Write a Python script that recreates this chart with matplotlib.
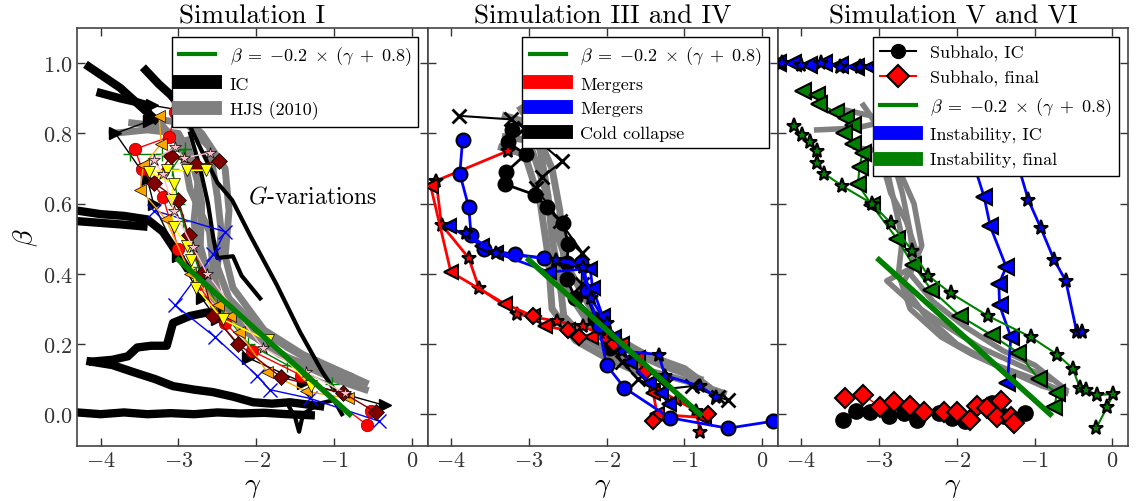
import numpy as np
import matplotlib
matplotlib.use("Agg")
import matplotlib.pyplot as plt
from matplotlib.lines import Line2D

plt.rcParams['font.family'] = 'serif'
plt.rcParams['font.serif'] = ['cmr10', 'DejaVu Serif']
plt.rcParams['mathtext.fontset'] = 'cm'
plt.rcParams['axes.formatter.use_mathtext'] = True
plt.rcParams['axes.unicode_minus'] = True

# fit line beta = -0.2 (gamma + 0.8), end points
fit_gamma = [-3.0, -0.8]
fit_beta = [0.44, 0.0]

# ---------------- panel 1 : Simulation I ----------------
p1_hjs = [
    [(-3.85, 0.80), (-3.4, 0.81), (-3.0, 0.80), (-2.8, 0.72), (-2.7, 0.60), (-2.72, 0.48), (-2.6, 0.38),
     (-2.3, 0.28), (-1.9, 0.20), (-1.5, 0.15), (-1.0, 0.10), (-0.6, 0.07)],
    [(-3.3, 0.84), (-2.9, 0.83), (-2.6, 0.76), (-2.5, 0.62), (-2.45, 0.52), (-2.5, 0.42), (-2.35, 0.33),
     (-2.0, 0.25), (-1.6, 0.19), (-1.2, 0.14), (-0.8, 0.11)],
    [(-3.0, 0.86), (-2.7, 0.80), (-2.4, 0.70), (-2.35, 0.58), (-2.4, 0.45), (-2.3, 0.36), (-1.9, 0.24),
     (-1.4, 0.17), (-0.9, 0.12), (-0.6, 0.09)],
    [(-2.9, 0.78), (-2.75, 0.66), (-2.8, 0.55), (-2.75, 0.45), (-2.55, 0.33), (-2.2, 0.25), (-1.7, 0.17),
     (-1.1, 0.12), (-0.7, 0.08)],
    [(-3.6, 0.83), (-3.2, 0.82), (-2.95, 0.76), (-2.85, 0.64), (-2.6, 0.52), (-2.55, 0.40), (-2.45, 0.31),
     (-2.1, 0.23), (-1.6, 0.16), (-1.0, 0.11)],
]
p1_ic_thick = [
    [(-4.15, 0.99), (-3.95, 0.96), (-3.75, 0.93), (-3.55, 0.89), (-3.4, 0.86), (-3.3, 0.84)],
    [(-4.0, 0.915), (-3.75, 0.90), (-3.55, 0.89), (-3.4, 0.88)],
    [(-3.42, 0.98), (-3.25, 0.94), (-3.1, 0.91), (-2.95, 0.87)],
    [(-4.3, 0.58), (-4.0, 0.57), (-3.7, 0.565), (-3.4, 0.555), (-3.2, 0.52), (-3.05, 0.47), (-2.9, 0.42)],
    [(-4.3, 0.55), (-4.0, 0.545), (-3.7, 0.54), (-3.45, 0.535)],
    [(-4.1, 0.15), (-3.85, 0.155), (-3.65, 0.165), (-3.53, 0.19), (-3.35, 0.195), (-3.15, 0.195),
     (-3.07, 0.26), (-2.85, 0.28), (-2.63, 0.29), (-2.5, 0.29)],
    [(-4.13, 0.15), (-3.85, 0.14), (-3.58, 0.12), (-3.3, 0.10), (-3.07, 0.08), (-2.8, 0.07), (-2.56, 0.063),
     (-2.3, 0.05), (-2.04, 0.034), (-1.8, 0.03), (-1.57, 0.034), (-1.18, 0.023)],
    [(-4.3, 0.005), (-4.0, 0.0), (-3.7, 0.005), (-3.4, 0.0), (-3.1, 0.003), (-2.8, 0.0), (-2.5, 0.005),
     (-2.2, 0.002), (-1.9, 0.004), (-1.6, 0.0), (-1.3, -0.003)],
]
p1_ic_thin = [
    [(-2.95, 0.87), (-2.85, 0.82), (-2.7, 0.75), (-2.5, 0.66), (-2.31, 0.61), (-2.08, 0.51), (-1.74, 0.37),
     (-1.44, 0.235), (-1.15, 0.12), (-1.0, 0.07)],
    [(-2.85, 0.80), (-2.72, 0.70), (-2.62, 0.60), (-2.55, 0.50), (-2.5, 0.445), (-2.3, 0.45), (-2.19, 0.395),
     (-1.95, 0.33)],
    [(-1.6, 0.03), (-1.5, -0.01), (-1.45, -0.05), (-1.4, 0.0), (-1.2, 0.03), (-1.0, 0.04), (-0.9, 0.0)],
]
p1_red = [(-3.04, 0.86), (-3.12, 0.79), (-3.56, 0.755), (-3.47, 0.70), (-3.2, 0.62), (-3.0, 0.47),
          (-2.75, 0.37), (-2.4, 0.26), (-2.05, 0.18), (-1.42, 0.11), (-0.58, -0.03), (-0.52, 0.01)]
p1_orange = [(-3.25, 0.85), (-3.22, 0.77), (-3.45, 0.71), (-3.49, 0.64), (-3.16, 0.555), (-2.85, 0.40),
             (-2.49, 0.31), (-2.34, 0.28), (-2.22, 0.235), (-1.86, 0.12), (-1.36, 0.065), (-0.82, 0.045)]
p1_yellow = [(-2.64, 0.695), (-2.89, 0.695), (-3.15, 0.695), (-3.38, 0.69), (-3.06, 0.657), (-3.09, 0.61),
             (-3.06, 0.533), (-2.89, 0.48), (-2.84, 0.44), (-2.77, 0.36), (-2.43, 0.27), (-1.85, 0.21),
             (-1.30, 0.08)]
p1_maroon = [(-2.48, 0.72), (-2.77, 0.71), (-3.1, 0.735), (-3.32, 0.66), (-3.0, 0.61), (-2.87, 0.51),
             (-2.7, 0.40), (-2.55, 0.28), (-2.23, 0.20), (-1.68, 0.105), (-0.88, 0.06), (-0.46, 0.005)]
p1_pink = [(-2.59, 0.745), (-2.93, 0.73), (-3.04, 0.76), (-3.32, 0.725), (-3.2, 0.685), (-3.06, 0.58),
           (-2.81, 0.475), (-2.63, 0.40), (-1.92, 0.19), (-1.36, 0.12), (-0.86, 0.06)]
p1_green = [(-3.62, 0.74), (-3.21, 0.74), (-2.91, 0.755), (-3.08, 0.70), (-3.0, 0.60), (-2.94, 0.55),
            (-2.75, 0.42), (-2.5, 0.31), (-2.1, 0.20), (-1.6, 0.14), (-1.03, 0.085)]
p1_blue = [(-3.31, 0.58), (-2.40, 0.52), (-2.55, 0.455), (-3.04, 0.31), (-2.53, 0.22), (-1.99, 0.11),
           (-1.83, 0.07), (-1.31, 0.045), (-0.42, -0.02)]
p1_black = [(-2.95, 0.865), (-3.34, 0.88), (-3.38, 0.835), (-3.81, 0.80), (-3.40, 0.67), (-3.32, 0.60),
            (-3.0, 0.45), (-2.7, 0.33), (-2.5, 0.27), (-2.1, 0.16), (-1.4, 0.09), (-0.35, 0.025)]

# ---------------- panel 2 : Simulation III and IV ----------------
p2_hjs = [
    [(-3.3, 0.85), (-3.0, 0.83), (-2.85, 0.75), (-2.75, 0.62), (-2.7, 0.5), (-2.6, 0.38), (-2.55, 0.28),
     (-2.3, 0.22), (-1.9, 0.17), (-1.4, 0.12), (-0.9, 0.09), (-0.5, 0.06)],
    [(-3.1, 0.87), (-2.9, 0.80), (-2.7, 0.70), (-2.6, 0.58), (-2.55, 0.45), (-2.5, 0.35), (-2.2, 0.25),
     (-1.8, 0.19), (-1.3, 0.14), (-0.8, 0.10)],
    [(-3.3, 0.79), (-3.0, 0.78), (-2.8, 0.65), (-2.65, 0.52), (-2.45, 0.40), (-2.2, 0.30), (-1.9, 0.22),
     (-1.5, 0.17), (-1.0, 0.13), (-0.7, 0.08)],
    [(-3.35, 0.76), (-3.05, 0.74), (-2.85, 0.60), (-2.75, 0.45), (-2.7, 0.30), (-2.4, 0.21), (-2.0, 0.16),
     (-1.6, 0.12)],
]
p2_red_star = [(-3.27, 0.75), (-4.19, 0.665), (-4.12, 0.54), (-3.77, 0.445), (-3.64, 0.36), (-3.15, 0.285),
               (-2.64, 0.265), (-2.3, 0.25), (-2.0, 0.22), (-1.7, 0.15), (-1.4, 0.08), (-1.1, 0.04),
               (-0.85, 0.01), (-0.8, -0.05)]
p2_red_tri = [(-4.26, 0.65), (-4.0, 0.405), (-3.31, 0.315), (-2.95, 0.28), (-2.79, 0.25), (-2.5, 0.24),
              (-2.2, 0.22), (-1.8, 0.2), (-1.6, 0.16), (-1.4, 0.06), (-1.35, 0.0), (-0.75, -0.01)]
p2_red_dia = [(-2.95, 0.28), (-2.5, 0.24), (-2.35, 0.22), (-2.1, 0.26), (-1.9, 0.2), (-1.5, 0.12),
              (-1.25, 0.1), (-1.4, -0.02), (-0.7, 0.0)]
p2_blue_circ = [(-3.85, 0.78), (-3.885, 0.685), (-3.77, 0.59), (-3.74, 0.51), (-3.57, 0.47), (-3.17, 0.455),
                (-2.80, 0.445), (-2.33, 0.43), (-2.25, 0.35), (-2.1, 0.25), (-2.0, 0.14), (-1.77, 0.075),
                (-1.19, -0.01), (-0.44, -0.04), (0.14, -0.02)]
p2_blue_tri = [(-4.02, 0.535), (-3.6, 0.48), (-3.42, 0.46), (-2.74, 0.405), (-2.21, 0.415), (-2.18, 0.36),
               (-2.05, 0.28), (-1.9, 0.22), (-1.7, 0.15), (-1.45, 0.09), (-1.3, 0.06), (-1.2, 0.03)]
p2_blue_star = [(-3.80, 0.515), (-3.42, 0.46), (-2.65, 0.44), (-2.3, 0.42), (-2.2, 0.33), (-2.0, 0.26),
                (-1.8, 0.18), (-1.33, 0.17), (-1.25, 0.11), (-0.8, 0.08), (-0.6, 0.05)]
p2_black_circ = [(-3.215, 0.81), (-3.27, 0.775), (-3.04, 0.74), (-3.29, 0.69), (-3.30, 0.655), (-2.92, 0.625),
                 (-2.77, 0.59), (-2.56, 0.545), (-2.49, 0.485), (-2.51, 0.43), (-2.51, 0.385), (-2.40, 0.33),
                 (-2.15, 0.27), (-1.98, 0.22), (-1.95, 0.19)]
p2_black_x = [(-3.89, 0.85), (-3.23, 0.84), (-3.06, 0.815), (-2.57, 0.72), (-2.83, 0.675), (-2.91, 0.645),
              (-2.6, 0.55), (-2.31, 0.46), (-2.32, 0.37), (-2.1, 0.25), (-1.8, 0.15), (-1.6, 0.10),
              (-1.3, 0.07), (-0.9, 0.08), (-0.57, 0.05), (-0.44, 0.04)]

# ---------------- panel 3 : Simulation V and VI ----------------
p3_hjs = [
    [(-3.8, 0.81), (-3.3, 0.815), (-3.0, 0.83), (-2.9, 0.70), (-2.8, 0.60), (-2.7, 0.50), (-2.75, 0.40),
     (-2.6, 0.30), (-2.2, 0.22), (-1.8, 0.17), (-1.3, 0.12), (-0.9, 0.08), (-0.6, 0.06)],
    [(-3.5, 0.87), (-3.1, 0.85), (-2.85, 0.75), (-2.7, 0.63), (-2.6, 0.52), (-2.55, 0.42), (-2.9, 0.38),
     (-2.6, 0.32), (-2.2, 0.26), (-1.7, 0.19), (-1.2, 0.14), (-0.8, 0.10)],
    [(-3.3, 0.76), (-3.0, 0.75), (-2.85, 0.63), (-2.65, 0.55), (-2.5, 0.45), (-2.7, 0.37), (-2.4, 0.28),
     (-2.0, 0.20), (-1.5, 0.14), (-1.0, 0.10), (-0.7, 0.07)],
    [(-3.2, 0.88), (-2.95, 0.80), (-2.75, 0.70), (-2.55, 0.60), (-2.45, 0.48), (-2.6, 0.40), (-2.3, 0.32),
     (-1.9, 0.25), (-1.4, 0.18), (-1.0, 0.14), (-0.6, 0.07)],
]
p3_blue_tri = [(-4.3, 1.0), (-4.1, 1.0), (-3.9, 0.995), (-3.7, 1.0), (-3.5, 0.995), (-3.3, 0.99), (-3.1, 0.99),
               (-2.9, 0.985), (-2.5, 0.96), (-2.1, 0.88), (-1.85, 0.76), (-1.65, 0.62), (-1.57, 0.535),
               (-1.365, 0.42), (-1.46, 0.37), (-1.45, 0.31), (-1.305, 0.22), (-1.35, 0.09)]
p3_blue_star = [(-4.25, 1.0), (-4.0, 0.995), (-3.75, 1.0), (-3.5, 0.99), (-3.25, 0.99), (-3.0, 0.99),
                (-2.6, 0.97), (-2.0, 0.93), (-1.5, 0.82), (-1.2, 0.70), (-1.08, 0.61), (-0.92, 0.53),
                (-0.75, 0.44), (-0.6, 0.38), (-0.46, 0.235), (-0.39, 0.235)]
p3_green_tri = [(-3.98, 0.92), (-3.79, 0.91), (-3.77, 0.885), (-3.55, 0.86), (-3.42, 0.845), (-3.33, 0.825),
                (-3.45, 0.80), (-3.33, 0.77), (-3.21, 0.745), (-3.25, 0.705), (-3.27, 0.655), (-3.09, 0.595),
                (-2.77, 0.50), (-2.56, 0.425), (-2.33, 0.355), (-1.96, 0.28), (-1.55, 0.225), (-1.21, 0.175),
                (-0.95, 0.10), (-0.715, 0.06), (-0.745, 0.02)]
p3_green_star = [(-4.09, 0.82), (-3.99, 0.795), (-3.89, 0.775), (-3.79, 0.75), (-3.79, 0.715), (-3.70, 0.685),
                 (-3.47, 0.65), (-3.09, 0.60), (-2.85, 0.545), (-2.57, 0.465), (-2.37, 0.395), (-2.08, 0.345),
                 (-1.60, 0.28), (-1.05, 0.22), (-0.71, 0.17), (-0.51, 0.13), (-0.42, 0.075), (-0.34, 0.07),
                 (-0.20, 0.055), (0.01, 0.057), (-0.07, 0.02), (-0.21, -0.04)]
p3_sub_ic = [(-3.46, -0.016), (-3.29, 0.01), (-3.12, 0.005), (-2.87, -0.005), (-2.68, 0.003), (-2.51, -0.016),
             (-2.23, 0.003), (-2.06, -0.012), (-1.89, -0.019), (-1.61, 0.024), (-1.55, 0.031), (-1.40, -0.005),
             (-1.12, 0.003)]
p3_sub_final = [(-3.43, 0.047), (-3.20, 0.055), (-2.99, 0.021), (-2.81, 0.035), (-2.60, 0.024), (-2.42, 0.007),
                (-2.17, 0.005), (-2.00, 0.005), (-1.83, -0.016), (-1.74, 0.024), (-1.61, 0.017), (-1.43, 0.038),
                (-1.48, -0.007), (-1.30, -0.007), (-1.27, -0.024)]

titles = ['Simulation I', 'Simulation III and IV', 'Simulation V and VI']
fit_label = r'$\beta\;=\;{-}0.2\;\times\;(\gamma\;+\;0.8)$'


def xy(pts):
    a = np.array(pts)
    return a[:, 0], a[:, 1]


def series(ax, pts, **kw):
    g, b = xy(pts)
    ax.plot(g, b, **kw)


fig, axes = plt.subplots(1, 3, figsize=(11.36, 5.02), dpi=100, sharey=True)
fig.subplots_adjust(left=0.068, right=0.993, bottom=0.11, top=0.942, wspace=0)

# panel 1
ax = axes[0]
for c in p1_hjs:
    series(ax, c, color='gray', lw=5, zorder=1)
for c in p1_ic_thick:
    series(ax, c, color='k', lw=6, zorder=2)
for c in p1_ic_thin:
    series(ax, c, color='k', lw=3, zorder=2)
series(ax, p1_black, color='k', marker='>', ms=9, lw=1, zorder=3)
series(ax, p1_blue, color='blue', marker='x', ms=10, mew=1, lw=1, zorder=3)
series(ax, p1_green, color='green', marker='+', ms=10, mew=1, lw=1, zorder=3)
series(ax, p1_red, color='red', marker='o', ms=9, mec='darkred', mew=0.5, lw=1, zorder=3)
series(ax, p1_orange, color='orange', marker='<', ms=9, mec='k', mew=0.5, lw=1, zorder=3)
series(ax, p1_maroon, color='#800000', marker='D', ms=8, mec='k', mew=0.5, lw=1, zorder=3)
series(ax, p1_yellow, color='yellow', marker='v', ms=9, mec='k', mew=0.5, lw=1.2, zorder=3)
series(ax, p1_pink, color='pink', marker='*', ms=9, mec='k', mew=0.5, lw=1, zorder=3)
ax.plot(fit_gamma, fit_beta, color='green', lw=4, zorder=4)
ax.text(-2.11, 0.62, r'$G$-variations', fontsize=17, ha='left', va='center')
h1 = [Line2D([], [], color='green', lw=3),
      Line2D([], [], color='k', lw=10),
      Line2D([], [], color='gray', lw=10)]
ax.legend(h1, [fit_label, 'IC', 'HJS (2010)'], loc='upper right', fontsize=13,
          fancybox=False, framealpha=1, edgecolor='k')

# panel 2
ax = axes[1]
for c in p2_hjs:
    series(ax, c, color='gray', lw=5, zorder=1)
mk = dict(mec='k', mew=1.5, lw=2, zorder=3)
series(ax, p2_black_circ, color='k', marker='o', ms=10, **mk)
series(ax, p2_black_x, color='k', marker='x', ms=10, mew=2, lw=1.5, zorder=3)
series(ax, p2_red_star, color='red', marker='*', ms=10, **mk)
series(ax, p2_red_tri, color='red', marker='<', ms=10, **mk)
series(ax, p2_red_dia, color='red', marker='D', ms=8, ls='none', mec='k', mew=1.5, zorder=3)
series(ax, p2_blue_circ, color='blue', marker='o', ms=10, **mk)
series(ax, p2_blue_tri, color='blue', marker='<', ms=10, **mk)
series(ax, p2_blue_star, color='blue', marker='*', ms=10, **mk)
ax.plot(fit_gamma, fit_beta, color='green', lw=4, zorder=4)
h2 = [Line2D([], [], color='green', lw=3),
      Line2D([], [], color='red', lw=10),
      Line2D([], [], color='blue', lw=10),
      Line2D([], [], color='k', lw=10)]
ax.legend(h2, [fit_label, 'Mergers', 'Mergers', 'Cold collapse'], loc='upper right', fontsize=13,
          fancybox=False, framealpha=1, edgecolor='k')

# panel 3
ax = axes[2]
for c in p3_hjs:
    series(ax, c, color='gray', lw=4, zorder=1)
series(ax, p3_blue_tri, color='blue', marker='<', ms=11, mec='k', mew=1.5, lw=2, zorder=3)
series(ax, p3_blue_star, color='blue', marker='*', ms=11, mec='k', mew=1.5, lw=2, zorder=3)
series(ax, p3_green_tri, color='green', marker='<', ms=11, mec='k', mew=1.5, lw=1.5, zorder=3)
series(ax, p3_green_star, color='green', marker='*', ms=11, mec='k', mew=1.5, lw=1.5, zorder=3)
series(ax, p3_sub_ic, color='k', marker='o', ms=11, lw=1, zorder=3)
series(ax, p3_sub_final, color='red', marker='D', ms=10, mfc='red', mec='k', mew=1.5, lw=1, zorder=3)
ax.plot(fit_gamma, fit_beta, color='green', lw=4, zorder=4)
h3 = [Line2D([], [], color='k', marker='o', ms=10, lw=1.5),
      Line2D([], [], color='red', marker='D', ms=11, mfc='red', mec='k', mew=1.5, lw=1.5),
      Line2D([], [], color='green', lw=3),
      Line2D([], [], color='blue', lw=10),
      Line2D([], [], color='green', lw=10)]
ax.legend(h3, ['Subhalo, IC', 'Subhalo, final', fit_label, 'Instability, IC', 'Instability, final'],
          loc='upper right', fontsize=13, fancybox=False, framealpha=1, edgecolor='k')

for i, ax in enumerate(axes):
    ax.set_xlim(-4.3, 0.2)
    ax.set_ylim(-0.09, 1.1)
    ax.set_xticks([-4, -3, -2, -1, 0])
    ax.set_yticks([0.0, 0.2, 0.4, 0.6, 0.8, 1.0])
    ax.tick_params(direction='in', top=True, right=True, length=6, width=1,
                   labelsize=16, colors='#333333', labelcolor='#333333')
    for s in ax.spines.values():
        s.set_color('#444444')
        s.set_linewidth(1.2)
    ax.set_title(titles[i], fontsize=19.5, pad=4)
    ax.set_xlabel(r'$\gamma$', fontsize=20, labelpad=2)
axes[0].set_ylabel(r'$\beta$', fontsize=20, labelpad=2)
axes[0].yaxis.set_major_formatter(matplotlib.ticker.FormatStrFormatter('$%.1f$'))

fig.savefig('out.png', dpi=100)
